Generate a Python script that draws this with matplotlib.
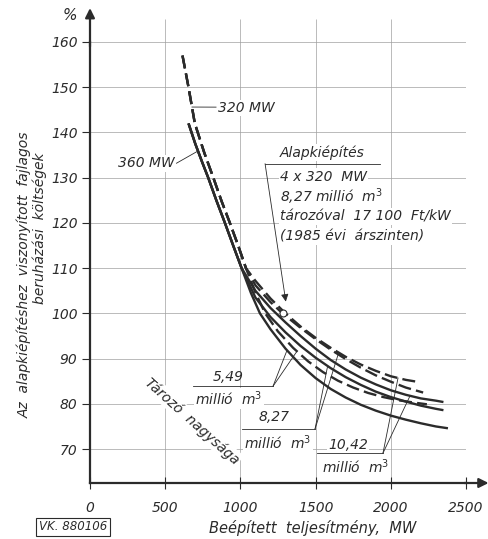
import numpy as np
import matplotlib.pyplot as plt

# --- adatok ---
x_ticks = [0, 500, 1000, 1500, 2000, 2500]
y_ticks = [70, 80, 90, 100, 110, 120, 130, 140, 150, 160]

# közös felső ág (360 MW folytonos, 320 MW szaggatott)
s_top_x = [655, 700, 745, 786, 840, 897, 952, 1008]
s_top_y = [142, 137.5, 133.5, 130, 125, 120, 115, 110]
d_top_x = [615, 655, 697, 760, 820, 875, 930, 985, 1037]
d_top_y = [157, 150, 142, 135.5, 130, 124.8, 120, 115, 110]

# 360 MW ágak tározónagyság szerint
s549_x = [1070, 1130, 1200, 1300, 1400, 1500, 1600, 1700, 1800, 1900, 2000, 2100, 2200, 2300, 2380]
s549_y = [104.5, 100, 96.5, 92.2, 88.6, 85.7, 83.3, 81.4, 79.8, 78.5, 77.4, 76.5, 75.7, 75.0, 74.6]
s827_x = [1100, 1200, 1300, 1400, 1500, 1600, 1700, 1800, 1900, 2000, 2100, 2200, 2300, 2350]
s827_y = [103.5, 99.2, 95.8, 92.8, 90.2, 87.9, 85.9, 84.2, 82.7, 81.5, 80.5, 79.6, 78.9, 78.6]
s1042_x = [1100, 1200, 1300, 1400, 1500, 1600, 1700, 1800, 1900, 2000, 2100, 2200, 2300, 2350]
s1042_y = [105, 101.2, 98, 95, 92.2, 89.7, 87.6, 85.8, 84.3, 83.0, 82.0, 81.2, 80.7, 80.4]

# 320 MW ágak
d549_x = [1100, 1165, 1250, 1350, 1450, 1550, 1650, 1750, 1850, 1950, 2050, 2150, 2240]
d549_y = [104.6, 100, 96, 92.4, 89.4, 87.0, 85.1, 83.6, 82.4, 81.5, 80.8, 80.3, 79.9]
d827_x = [1100, 1200, 1280, 1400, 1500, 1600, 1700, 1800, 1900, 2000, 2100, 2215]
d827_y = [106.2, 102.5, 100, 96.8, 94.3, 92.0, 89.9, 88.0, 86.3, 84.9, 83.6, 82.5]
d1042_x = [1100, 1200, 1300, 1400, 1500, 1600, 1700, 1800, 1900, 2000, 2100, 2190]
d1042_y = [107.2, 103.3, 100.0, 97.1, 94.6, 92.4, 90.4, 88.7, 87.3, 86.1, 85.3, 84.8]

alap_x, alap_y = 1280, 100   # 4 x 320 MW, 8,27 millió m3

ink = '#2b2b2b'
grid_c = '#a0a0a0'

fig = plt.figure(figsize=(4.89, 5.39), dpi=100)
fig.patch.set_facecolor('white')
ax = fig.add_axes([90/489, 56/539, 376/489, 441/539])
ax.set_xlim(0, 2500)
ax.set_ylim(62.5, 160)

ax.set_xticks(x_ticks)
ax.set_yticks(y_ticks)
ax.set_xticklabels([str(v) for v in x_ticks], fontstyle='italic', fontsize=10, color=ink)
ax.set_yticklabels([str(v) for v in y_ticks], fontstyle='italic', fontsize=10, color=ink)
ax.tick_params(axis='x', direction='inout', length=8, width=0.8, pad=9, colors=ink)
ax.tick_params(axis='y', direction='out', length=6, width=0.8, pad=3, colors=ink)
ax.grid(True, color=grid_c, lw=0.5)
ax.set_axisbelow(True)
for s in ['top', 'right']:
    ax.spines[s].set_visible(False)
for s in ['left', 'bottom']:
    ax.spines[s].set_linewidth(1.6)
    ax.spines[s].set_color(ink)

# függőleges rácsvonalak a 160 fölé
ax.vlines(x_ticks[1:-1], 160, 165, color=grid_c, lw=0.5, clip_on=False)

# tengelynyilak
ax.annotate('', xy=(0, 167.5), xytext=(0, 159), annotation_clip=False,
            arrowprops=dict(arrowstyle='-|>', color=ink, lw=1.6, mutation_scale=14,
                            shrinkA=0, shrinkB=0))
ax.annotate('', xy=(2650, 62.5), xytext=(2490, 62.5), annotation_clip=False,
            arrowprops=dict(arrowstyle='-|>', color=ink, lw=1.6, mutation_scale=14,
                            shrinkA=0, shrinkB=0))

# görbék
solid = [(s549_x, s549_y), (s827_x, s827_y), (s1042_x, s1042_y)]
dashed = [(d549_x, d549_y), (d827_x, d827_y), (d1042_x, d1042_y)]
curves = {}
for name, (xs, ys) in zip(['s549', 's827', 's1042'], solid):
    cx = np.array(s_top_x + xs)
    cy = np.array(s_top_y + ys)
    curves[name] = (cx, cy)
    ax.plot(cx, cy, color=ink, lw=1.7, solid_capstyle='butt', zorder=3)
for name, (xs, ys) in zip(['d549', 'd827', 'd1042'], dashed):
    cx = np.array(d_top_x + xs)
    cy = np.array(d_top_y + ys)
    curves[name] = (cx, cy)
    ax.plot(cx, cy, color=ink, lw=1.7, dashes=(5.5, 2.2), dash_capstyle='butt', zorder=3)


def on(name, x):
    cx, cy = curves[name]
    return (x, float(np.interp(x, cx, cy)))


tkw = dict(fontstyle='italic', color=ink, fontsize=10)
wbox = dict(facecolor='white', edgecolor='none', pad=1.0)

# 320 MW / 360 MW feliratok
ax.text(851, 145.4, '320 MW', ha='left', va='center', bbox=wbox, zorder=4, **tkw)
ax.plot([838, on('d1042', 678)[0]], [145.6, on('d1042', 678)[1]], color=ink, lw=0.6, zorder=4)
ax.text(565, 133.2, '360 MW', ha='right', va='center', bbox=wbox, zorder=4, **tkw)
ax.plot([575, on('s1042', 718)[0]], [133.2, on('s1042', 718)[1]], color=ink, lw=0.6, zorder=4)

# alapkiépítés
ax.text(1263, 135.6, 'Alapkiépítés', ha='left', va='center', bbox=wbox, zorder=4, **tkw)
alap_lines = ['4 x 320  MW', '8,27 millió  m$^3$', 'tározóval  17 100  Ft/kW', '(1985 évi  árszinten)']
for i, t in enumerate(alap_lines):
    ax.text(1263, 130.2 - i * 4.4, t, ha='left', va='center', bbox=wbox, zorder=4, **tkw)
ax.plot([1164, 1930], [133.1, 133.1], color=ink, lw=0.6, zorder=5)
ax.annotate('', xy=(1302, 102.6), xytext=(1164, 133.1),
            arrowprops=dict(arrowstyle='-|>', color=ink, lw=0.6, mutation_scale=11,
                            shrinkA=0, shrinkB=0), zorder=5)
ax.plot(alap_x, alap_y, 'o', ms=5, mfc='white', mec=ink, mew=0.8, zorder=6)

# tározó nagysága
ax.text(680, 76.2, 'Tározó  nagysága', rotation=-42, rotation_mode='anchor',
        ha='center', va='center', bbox=wbox, zorder=4, **tkw)

# 5,49 millió m3
ax.text(918, 85.9, '5,49', ha='center', va='center', **tkw)
ax.text(924, 81.2, 'millió  m$^3$', ha='center', va='center', bbox=wbox, zorder=4, **tkw)
ax.plot([685, 1217], [83.9, 83.9], color=ink, lw=0.6, zorder=4)
for nm, xx in [('s549', 1310), ('d549', 1376)]:
    p = on(nm, xx)
    ax.plot([1217, p[0]], [83.9, p[1]], color=ink, lw=0.6, zorder=4)

# 8,27 millió m3
ax.text(1223, 77.0, '8,27', ha='center', va='center', **tkw)
ax.text(1250, 71.5, 'millió  m$^3$', ha='center', va='center', bbox=wbox, zorder=4, **tkw)
ax.plot([1011, 1496], [74.4, 74.4], color=ink, lw=0.6, zorder=4)
for nm, xx in [('s827', 1580), ('d827', 1650)]:
    p = on(nm, xx)
    ax.plot([1496, p[0]], [74.4, p[1]], color=ink, lw=0.6, zorder=4)

# 10,42 millió m3
ax.text(1715, 70.9, '10,42', ha='center', va='center', bbox=wbox, zorder=4, **tkw)
ax.text(1769, 66.0, 'millió  m$^3$', ha='center', va='center', bbox=wbox, zorder=4, **tkw)
ax.plot([1509, 1948], [69.1, 69.1], color=ink, lw=0.6, zorder=4)
for nm, xx in [('d1042', 2048), ('s1042', 2128)]:
    p = on(nm, xx)
    ax.plot([1948, p[0]], [69.1, p[1]], color=ink, lw=0.6, zorder=4)

# tengelyfeliratok
fig.text(70/489, 1 - 15/539, '%', ha='center', va='center', fontsize=11,
         fontstyle='italic', color=ink)
fig.text(24/489, 1 - 275/539, 'Az  alapkiépítéshez  viszonyított  fajlagos', rotation=90,
         ha='center', va='center', **tkw)
fig.text(40/489, 1 - 228/539, 'beruházási  költségek', rotation=90,
         ha='center', va='center', **tkw)
fig.text(313/489, 1 - 528/539, 'Beépített  teljesítmény,  MW', ha='center', va='center',
         fontstyle='italic', color=ink, fontsize=10.5)
fig.text(73/489, 1 - 527/539, 'VK. 880106', ha='center', va='center', fontsize=8.5,
         fontstyle='italic', color=ink,
         bbox=dict(facecolor='white', edgecolor=ink, lw=0.8, pad=2.0))

fig.savefig('out.png', dpi=100)
